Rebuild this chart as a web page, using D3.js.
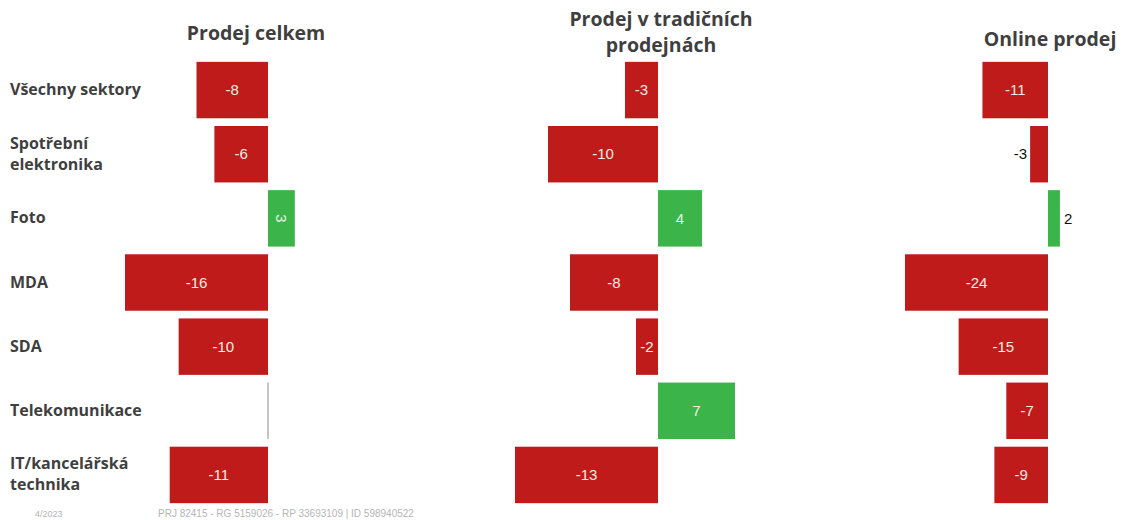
<!DOCTYPE html>
<html>
<head>
<meta charset="utf-8">
<script src="https://cdn.jsdelivr.net/npm/d3@7"></script>
<style>
  body { margin: 0; background: #fff; }
  svg { display: block; }
</style>
</head>
<body>
<div id="chart"></div>
<script>
const categories = [
  "Všechny sektory",
  "Spotřební elektronika",
  "Foto",
  "MDA",
  "SDA",
  "Telekomunikace",
  "IT/kancelářská technika",
];
const prodejCelkem = [-8, -6, 3, -16, -10, 0, -11];
const prodejTradicni = [-3, -10, 4, -8, -2, 7, -13];
const prodejOnline = [-11, -3, 2, -24, -15, -7, -9];

const panelTitles = [
  ["Prodej celkem"],
  ["Prodej v tradičních", "prodejnách"],
  ["Online prodej"],
];
const footerDate = "4/2023";
const footerId = "PRJ 82415 - RG 5159026 - RP 33693109 | ID 598940522";

const W = 1122,
  H = 520;
const RED = "#bf1b1b",
  GREEN = "#3bb44a",
  TEXT = "#3f3f3f";
const labelFont = "'Open Sans', 'Noto Sans', sans-serif";
const numFont = "'Liberation Sans', Arial, sans-serif";

const panels = [
  { values: prodejCelkem, zero: 268, titleX: 256, titleY: 40 },
  { values: prodejTradicni, zero: 658, titleX: 661, titleY: 26 },
  { values: prodejOnline, zero: 1048, titleX: 1050, titleY: 46 },
];
const negWidth = 143; // px for the largest drop in each panel

const svg = d3
  .select("#chart")
  .append("svg")
  .attr("width", W)
  .attr("height", H);

const y = d3
  .scaleBand()
  .domain(categories)
  .range([58, 507])
  .paddingInner(0.12)
  .paddingOuter(0.06);

// wrap long category names
const wrap = (text, width) => {
  text.each(function () {
    const t = d3.select(this),
      words = t.text().split(/\s+/).reverse(),
      x = t.attr("x");
    let line = [],
      word;
    t.text(null);
    let tspan = t.append("tspan").attr("x", x);
    while ((word = words.pop())) {
      line.push(word);
      tspan.text(line.join(" "));
      if (tspan.node().getComputedTextLength() > width && line.length > 1) {
        line.pop();
        tspan.text(line.join(" "));
        line = [word];
        tspan = t.append("tspan").attr("x", x).text(word);
      }
    }
    const spans = t.selectAll("tspan"),
      n = spans.size(),
      lh = 21;
    spans.attr("dy", (d, i) => (i === 0 ? (-(n - 1) * lh) / 2 + 5 : lh));
  });
};

// category labels
svg
  .append("g")
  .selectAll("text")
  .data(categories)
  .enter()
  .append("text")
  .attr("x", 10)
  .attr("y", (d) => y(d) + y.bandwidth() / 2)
  .style("font-family", labelFont)
  .style("font-weight", "bold")
  .style("font-size", "16px")
  .style("fill", TEXT)
  .text((d) => d)
  .call(wrap, 165);

panels.forEach((p, pi) => {
  const minVal = d3.min(p.values);
  const x = d3
    .scaleLinear()
    .domain([minVal, 0])
    .range([p.zero - negWidth, p.zero]);

  const g = svg.append("g");

  // title
  const title = g
    .append("text")
    .attr("text-anchor", "middle")
    .style("font-family", labelFont)
    .style("font-weight", "bold")
    .style("font-size", "19.5px")
    .style("fill", TEXT);
  panelTitles[pi].forEach((ln, i) => {
    title
      .append("tspan")
      .attr("x", p.titleX)
      .attr("y", p.titleY + i * 26)
      .text(ln);
  });

  const rows = categories.map((c, i) => ({ cat: c, value: p.values[i] }));

  g.selectAll("rect")
    .data(rows)
    .enter()
    .append("rect")
    .attr("x", (d) => (d.value === 0 ? x(0) - 0.5 : Math.min(x(d.value), x(0))))
    .attr("y", (d) => y(d.cat))
    .attr("width", (d) => (d.value === 0 ? 1 : Math.abs(x(d.value) - x(0))))
    .attr("height", y.bandwidth())
    .style("fill", (d) => (d.value === 0 ? "#8a8a8a" : d.value < 0 ? RED : GREEN));

  g.selectAll("text.val")
    .data(rows.filter((d) => d.value !== 0))
    .enter()
    .append("text")
    .attr("class", "val")
    .each(function (d) {
      const w = Math.abs(x(d.value) - x(0));
      const cy = y(d.cat) + y.bandwidth() / 2;
      const t = d3
        .select(this)
        .style("font-family", numFont)
        .style("font-size", "15px")
        .attr("dy", "0.35em")
        .text(d.value);
      if (w < 20) {
        // too narrow, label outside the bar
        t.attr("x", d.value < 0 ? x(d.value) - 3 : x(d.value) + 4)
          .attr("y", cy)
          .attr("text-anchor", d.value < 0 ? "end" : "start")
          .style("fill", "#111");
      } else if (d.value > 0 && w < 30) {
        const cx = (x(d.value) + x(0)) / 2;
        t.attr("x", 0)
          .attr("y", 0)
          .attr("text-anchor", "middle")
          .attr("transform", `translate(${cx},${cy}) rotate(90)`)
          .style("fill", "#e8f3e3");
      } else {
        t.attr("x", (x(d.value) + x(0)) / 2)
          .attr("y", cy)
          .attr("text-anchor", "middle")
          .style("fill", d.value > 0 ? "#e8f3e3" : "#f6ece2");
      }
    });
});

// footer
svg
  .append("text")
  .attr("x", 35)
  .attr("y", 517)
  .style("font-family", numFont)
  .style("font-size", "9px")
  .style("fill", "#b5b5b5")
  .text(footerDate);
svg
  .append("text")
  .attr("x", 158)
  .attr("y", 517)
  .style("font-family", numFont)
  .style("font-size", "10px")
  .style("fill", "#b5b5b5")
  .text(footerId);
</script>
</body>
</html>
